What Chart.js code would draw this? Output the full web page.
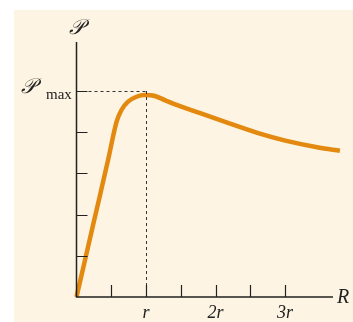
<!DOCTYPE html>
<html>
<head>
<meta charset="utf-8">
<script src="https://cdn.jsdelivr.net/npm/chart.js@4/dist/chart.umd.min.js"></script>
<style>
  html, body { margin: 0; padding: 0; background: #ffffff; }
  #wrap { width: 353px; height: 322px; }
</style>
</head>
<body>
<div id="wrap"><canvas id="powerChart"></canvas></div>
<script>
// Power delivered vs load resistance R (in units of r)
const resistance = [0, 0.25, 0.455, 0.576, 0.647, 0.742, 0.863, 0.983, 1.127, 1.27, 1.41, 1.78, 2.21, 2.65, 3.02, 3.48, 3.79];
const power      = [0, 1.83, 3.33, 4.25, 4.54, 4.74, 4.86, 4.90, 4.88, 4.78, 4.68, 4.46, 4.21, 3.96, 3.79, 3.63, 3.55];

const xTicks = [0.5, 1, 1.5, 2, 2.5, 3];
const xTickLabels = { 1: "r", 2: "2r", 3: "3r" };
const yTicks = [1, 2, 3, 4, 5];
const pMax = 5;      // value of the 𝒫max tick
const rPeak = 1;     // R = r at the maximum
const xAxisEnd = 3.69;
const yAxisEnd = 6.19;

const cream = "#fdf4e3";
const orange = "#e3890f";

const points = resistance.map((x, i) => ({ x: x, y: power[i] }));

// hand-drawn axes, ticks, dotted guides and labels
const axesPlugin = {
    id: "axes",
    beforeDraw(chart) {
        const ctx = chart.ctx;
        ctx.save();
        ctx.fillStyle = cream;
        ctx.fillRect(14, 10, chart.width - 14, chart.height - 10);
        ctx.restore();
    },
    afterDatasetsDraw(chart) {
        const ctx = chart.ctx;
        const xs = chart.scales.x, ys = chart.scales.y;
        const x0 = xs.getPixelForValue(0), y0 = ys.getPixelForValue(0);
        ctx.save();

        // dotted guides to the maximum
        const px = xs.getPixelForValue(rPeak), py = ys.getPixelForValue(pMax);
        ctx.strokeStyle = "#333";
        ctx.lineWidth = 1;
        ctx.setLineDash([3, 3]);
        ctx.beginPath();
        ctx.moveTo(x0, py + 0.5); ctx.lineTo(px, py + 0.5);
        ctx.moveTo(px + 0.5, py); ctx.lineTo(px + 0.5, y0);
        ctx.stroke();
        ctx.setLineDash([]);

        // axes
        ctx.strokeStyle = "#222";
        ctx.lineWidth = 1.5;
        ctx.beginPath();
        ctx.moveTo(x0, ys.getPixelForValue(yAxisEnd)); ctx.lineTo(x0, y0);
        ctx.lineTo(xs.getPixelForValue(xAxisEnd), y0);
        ctx.stroke();

        // ticks
        ctx.lineWidth = 1.2;
        ctx.beginPath();
        xTicks.forEach(v => {
            const x = Math.round(xs.getPixelForValue(v)) + 0.5;
            ctx.moveTo(x, y0); ctx.lineTo(x, y0 - 12);
        });
        yTicks.forEach(v => {
            const y = Math.round(ys.getPixelForValue(v)) + 0.5;
            ctx.moveTo(x0, y); ctx.lineTo(x0 + 11, y);
        });
        ctx.stroke();

        // labels
        ctx.fillStyle = "#222";
        ctx.textBaseline = "alphabetic";
        ctx.textAlign = "center";
        ctx.font = "italic 18px 'Liberation Serif', 'DejaVu Serif', serif";
        Object.keys(xTickLabels).forEach(k => {
            ctx.fillText(xTickLabels[k], xs.getPixelForValue(Number(k)), y0 + 21);
        });
        ctx.font = "italic 20px 'Liberation Serif', 'DejaVu Serif', serif";
        ctx.textAlign = "left";
        ctx.fillText("R", 337, y0 + 6);

        ctx.font = "italic 21px 'DejaVu Serif', 'Liberation Serif', serif";
        ctx.textAlign = "center";
        ctx.fillText("𝒫", x0, 34);
        ctx.textAlign = "left";
        ctx.fillText("𝒫", 21, py + 2);
        ctx.font = "15px 'Liberation Serif', 'DejaVu Serif', serif";
        ctx.fillText("max", 46, py + 8);

        ctx.restore();
    }
};

new Chart(document.getElementById("powerChart"), {
    type: "line",
    data: {
        datasets: [{
            data: points,
            borderColor: orange,
            borderWidth: 4.5,
            pointRadius: 0,
            fill: false,
            cubicInterpolationMode: "monotone",
            clip: false
        }]
    },
    options: {
        responsive: true,
        maintainAspectRatio: false,
        animation: false,
        layout: { padding: { left: 76.5, right: 8, top: 37, bottom: 25 } },
        plugins: { legend: { display: false }, tooltip: { enabled: false } },
        scales: {
            x: { type: "linear", min: 0, max: 268.5 / 69.5, display: false },
            y: { type: "linear", min: 0, max: 260 / 41.2, display: false }
        }
    },
    plugins: [axesPlugin]
});
</script>
</body>
</html>
